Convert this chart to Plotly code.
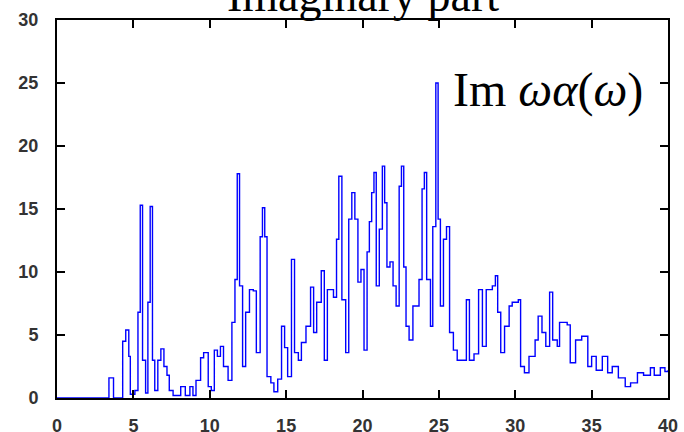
import plotly.graph_objects as go

# Photon energy grid (eV) and the imaginary part of omega*alpha(omega)
freq = [0, 3.3, 3.4, 3.7, 4.2, 4.3, 4.5, 4.7, 4.8, 5.1, 5.3, 5.45, 5.6, 5.8, 5.95,
        6.1, 6.25, 6.4, 6.6, 6.8, 7.0, 7.2, 7.35, 7.6, 8.1, 8.4, 8.7, 8.9, 9.1,
        9.4, 9.6, 9.9, 10.1, 10.3, 10.5, 10.7, 10.9, 11.2, 11.45, 11.65, 11.8,
        11.95, 12.15, 12.35, 12.6, 12.85, 13.05, 13.3, 13.45, 13.6, 13.75, 14.0,
        14.2, 14.45, 14.7, 14.9, 15.1, 15.35, 15.55, 15.8, 16.0, 16.3, 16.6,
        16.8, 17.0, 17.3, 17.5, 17.7, 18.1, 18.3, 18.45, 18.65, 18.9, 19.1,
        19.3, 19.5, 19.7, 19.9, 20.1, 20.3, 20.45, 20.6, 20.75, 20.9, 21.1,
        21.3, 21.45, 21.6, 21.8, 22.0, 22.2, 22.4, 22.55, 22.7, 22.85, 23.05,
        23.3, 23.7, 23.9, 24.05, 24.2, 24.45, 24.6, 24.8, 24.95, 25.1, 25.3,
        25.5, 25.7, 25.95, 26.2, 26.8, 27.0, 27.3, 27.6, 27.85, 28.1, 28.5,
        28.7, 28.85, 29.05, 29.3, 29.6, 29.8, 30.2, 30.35, 30.6, 30.9, 31.3,
        31.5, 31.75, 32.0, 32.25, 32.45, 32.75, 32.9, 33.4, 33.6, 33.95, 34.35,
        34.75, 35.0, 35.3, 35.7, 36.05, 36.35, 36.75, 37.2, 37.55, 38.0, 38.4,
        38.85, 39.1, 39.5, 39.8, 40.0]
im_omega_alpha = [0, 0, 1.6, 0, 0, 4.5, 5.4, 3.3, 0.3, 0.6, 6.8, 15.3, 3.0, 0.4, 7.6,
                  15.2, 3.0, 0.6, 3.0, 3.9, 2.5, 1.8, 0.6, 0.2, 0.9, 0.2, 0.9, 0.2, 1.4,
                  3.2, 3.6, 0.9, 0.6, 3.8, 3.3, 4.1, 2.5, 1.4, 6.0, 9.4, 17.8,
                  8.9, 2.5, 6.8, 8.6, 8.5, 3.6, 12.8, 15.1, 12.8, 1.7, 1.2,
                  0.5, 1.5, 5.7, 4.0, 1.7, 11.0, 3.6, 3.0, 4.4, 5.7, 8.8,
                  5.2, 7.6, 10.1, 3.0, 8.6, 8.0, 12.6, 17.6, 7.8, 3.6, 14.2,
                  16.3, 14.2, 9.2, 10.2, 3.8, 11.6, 14.0, 16.3, 17.9, 8.9, 13.4,
                  18.4, 15.5, 10.4, 10.8, 8.9, 7.3, 16.8, 18.4, 10.4, 5.7, 4.6,
                  7.3, 9.4, 16.6, 17.9, 9.4, 5.7, 13.6, 25.0, 14.2, 7.3, 12.6,
                  13.6, 5.2, 3.8, 3.0, 7.8, 3.0, 3.5, 8.6, 4.1, 8.6, 8.9,
                  9.7, 6.8, 3.6, 5.7, 7.3, 7.6, 7.8, 2.5, 2.0, 3.3, 4.6,
                  6.5, 5.2, 4.1, 8.4, 4.6, 4.1, 6.0, 5.8, 2.8, 4.6, 4.9,
                  2.5, 3.3, 2.2, 3.3, 2.0, 2.5, 1.6, 0.9, 1.2, 2.0, 1.8,
                  2.4, 1.8, 2.4, 2.1, 2.2]

x_ticks = [0, 5, 10, 15, 20, 25, 30, 35, 40]
y_ticks = [0, 5, 10, 15, 20, 25, 30]

fig = go.Figure()
fig.add_trace(go.Scatter(
    x=freq, y=im_omega_alpha, mode="lines", line_shape="hv",
    line=dict(color="#0000ff", width=1.4), showlegend=False,
))

axis_common = dict(
    showline=True, linecolor="black", linewidth=2, mirror="ticks",
    ticks="inside", ticklen=8, tickwidth=1.5, tickcolor="black",
    showgrid=False, zeroline=False, automargin=False,
    tickfont=dict(family="Liberation Sans", size=18, color="#333333", weight="bold"),
)

fig.update_xaxes(range=[0, 40], tickvals=x_ticks, ticklabelstandoff=10, **axis_common)
fig.update_yaxes(range=[0, 30], tickvals=y_ticks, ticklabelstandoff=13, **axis_common)

fig.add_annotation(
    text="Imaginary part", xref="paper", yref="paper", x=0.5, y=1.065,
    xanchor="center", yanchor="middle", showarrow=False,
    font=dict(family="Liberation Serif", size=46, color="black"),
)
fig.add_annotation(
    text="Im <i>ωα</i>(<i>ω</i>)", xref="paper", yref="paper", x=0.962, y=0.815,
    xanchor="right", yanchor="middle", showarrow=False,
    font=dict(family="Liberation Serif", size=48, color="black"),
)

fig.update_layout(
    width=684, height=432,
    margin=dict(l=57, r=16, t=20, b=34),
    paper_bgcolor="white", plot_bgcolor="white",
)

fig.write_html("out.html")
